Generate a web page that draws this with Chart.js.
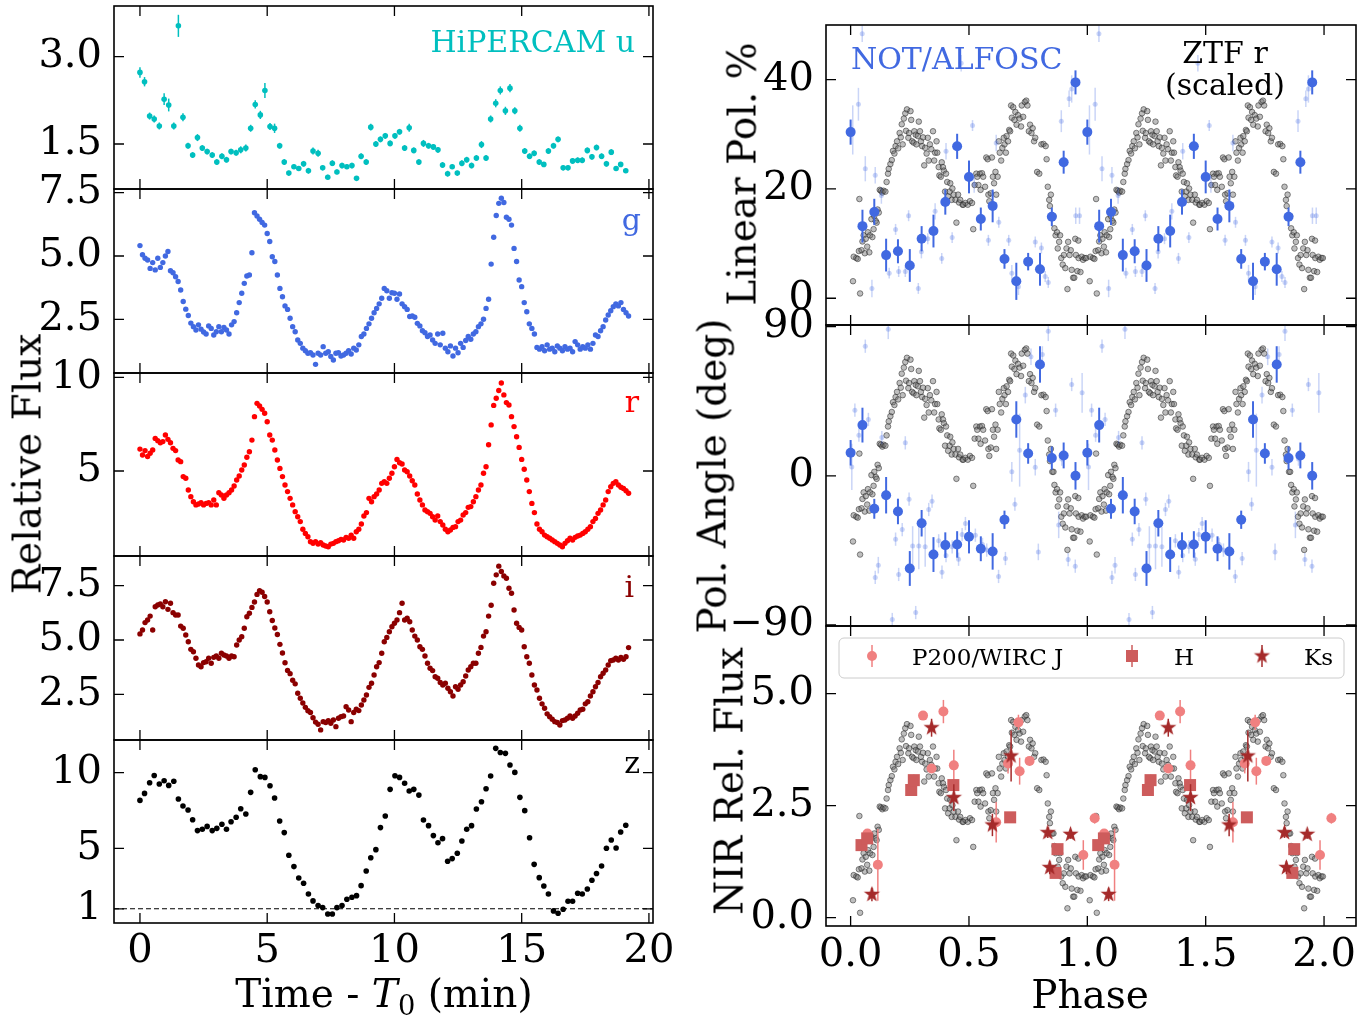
<!DOCTYPE html>
<html>
<head>
<meta charset="utf-8">
<script src="https://cdn.jsdelivr.net/npm/chart.js@4.4.1/dist/chart.umd.min.js"></script>
<style>
  html, body { margin: 0; padding: 0; background: #fff; }
  #fig { position: relative; width: 1371px; height: 1015px; overflow: hidden; font-family: 'DejaVu Serif', serif; }
  #fig canvas { position: absolute; }
  .lbl { position: absolute; white-space: nowrap; line-height: 1; color: #000; z-index: 5; }
  .ax { font-size: 39px; transform: translate(-50%, -50%); }
  .axv { font-size: 39px; transform: translate(-50%, -50%) rotate(-90deg); }
  .tag { font-size: 30px; }
  sub { font-size: 70%; vertical-align: -0.3em; line-height: 0; }
</style>
</head>
<body>
<div id="fig">
  <div class="lbl axv" style="left:27px; top:464px">Relative Flux</div>
  <div class="lbl ax" style="left:384px; top:993px">Time - <i>T</i><sub>0</sub> (min)</div>
  <div class="lbl axv" style="left:742px; top:174px">Linear Pol. %</div>
  <div class="lbl axv" style="left:712px; top:476px">Pol. Angle (deg)</div>
  <div class="lbl axv" style="left:729px; top:781px">NIR Rel. Flux</div>
  <div class="lbl ax" style="left:1090px; top:994px">Phase</div>

  <div class="lbl tag" style="right:736px; top:27px; color:#00bfbf">HiPERCAM u</div>
  <div class="lbl tag" style="right:730px; top:205px; color:royalblue">g</div>
  <div class="lbl tag" style="right:732px; top:387px; color:red">r</div>
  <div class="lbl tag" style="right:737px; top:572px; color:darkred">i</div>
  <div class="lbl tag" style="right:731px; top:748px; color:#000">z</div>
  <div class="lbl tag" style="left:851px; top:44px; color:royalblue">NOT/ALFOSC</div>
  <div class="lbl tag" style="left:1225px; top:38px; transform:translateX(-50%)">ZTF r</div>
  <div class="lbl tag" style="left:1225px; top:70px; transform:translateX(-50%)">(scaled)</div>
</div>
<script>
// ---------------- data: HiPERCAM light curves ----------------
const uzTime = [
  0.00, 0.18, 0.38, 0.56, 0.76, 0.95, 1.13, 1.33, 1.51, 1.69,
  1.89, 2.07, 2.26, 2.45, 2.64, 2.84, 3.02, 3.22, 3.40, 3.58,
  3.78, 3.96, 4.16, 4.35, 4.53, 4.73, 4.91, 5.11, 5.29, 5.49,
  5.67, 5.85, 6.05, 6.24, 6.43, 6.62, 6.80, 7.00, 7.18, 7.38,
  7.56, 7.74, 7.94, 8.13, 8.33, 8.51, 8.69, 8.89, 9.07, 9.27,
  9.45, 9.64, 9.83, 10.02, 10.20, 10.40, 10.58, 10.76, 10.96, 11.14,
  11.34, 11.53, 11.71, 11.89, 12.09, 12.27, 12.47, 12.65, 12.84, 13.03,
  13.22, 13.42, 13.60, 13.78, 13.98, 14.16, 14.36, 14.54, 14.73, 14.93,
  15.12, 15.31, 15.49, 15.69, 15.87, 16.05, 16.25, 16.43, 16.63, 16.82,
  17.00, 17.20, 17.38, 17.58, 17.76, 17.94, 18.14, 18.33, 18.52, 18.71,
  18.89, 19.09
];
const uFlux = [
  2.73, 2.57, 1.98, 1.93, 1.81, 2.27, 2.17, 1.81, 3.53, 1.96,
  1.47, 1.31, 1.61, 1.43, 1.37, 1.31, 1.19, 1.29, 1.23, 1.37,
  1.35, 1.40, 1.43, 1.77, 2.18, 2.00, 2.42, 1.80, 1.77, 1.47,
  1.19, 1.00, 1.11, 1.08, 1.16, 1.04, 1.38, 1.34, 1.09, 0.93,
  1.17, 1.02, 1.13, 1.11, 1.13, 0.91, 1.29, 1.19, 1.79, 1.50,
  1.58, 1.64, 1.51, 1.64, 1.71, 1.43, 1.78, 1.39, 1.19, 1.51,
  1.47, 1.45, 1.40, 1.14, 0.99, 1.11, 1.00, 1.17, 1.23, 1.13,
  1.26, 1.49, 1.26, 1.93, 2.20, 2.42, 2.07, 2.46, 2.07, 1.77,
  1.38, 1.29, 1.34, 1.19, 1.15, 1.38, 1.47, 1.58, 1.09, 1.09,
  1.21, 1.22, 1.22, 1.39, 1.28, 1.44, 1.29, 1.16, 1.36, 1.08,
  1.15, 1.04
];
const uErr = [
  0.09, 0.08, 0.06, 0.06, 0.06, 0.10, 0.11, 0.06, 0.19, 0.07,
  0.05, 0.05, 0.06, 0.05, 0.05, 0.05, 0.05, 0.05, 0.05, 0.05,
  0.05, 0.06, 0.06, 0.06, 0.07, 0.07, 0.13, 0.06, 0.08, 0.05,
  0.05, 0.04, 0.04, 0.04, 0.05, 0.05, 0.06, 0.06, 0.04, 0.04,
  0.05, 0.04, 0.05, 0.04, 0.05, 0.04, 0.05, 0.05, 0.06, 0.05,
  0.05, 0.05, 0.05, 0.05, 0.05, 0.05, 0.07, 0.05, 0.05, 0.06,
  0.05, 0.05, 0.05, 0.05, 0.05, 0.04, 0.04, 0.05, 0.05, 0.05,
  0.05, 0.06, 0.05, 0.06, 0.07, 0.07, 0.07, 0.07, 0.06, 0.06,
  0.05, 0.05, 0.05, 0.05, 0.04, 0.05, 0.05, 0.05, 0.04, 0.04,
  0.05, 0.05, 0.05, 0.05, 0.05, 0.05, 0.05, 0.05, 0.05, 0.04,
  0.04, 0.04
];
const zFlux = [
  8.17, 8.63, 9.34, 9.82, 9.25, 9.47, 9.16, 9.43, 8.26, 7.80,
  7.53, 6.89, 6.17, 6.26, 6.45, 6.17, 6.32, 6.59, 6.26, 6.76,
  7.05, 7.62, 7.27, 8.70, 10.20, 9.74, 9.69, 9.14, 8.33, 6.81,
  6.04, 4.54, 3.79, 3.04, 2.69, 1.98, 1.52, 1.21, 1.08, 0.66,
  0.66, 1.08, 1.21, 1.63, 1.76, 1.87, 2.53, 3.50, 4.38, 4.91,
  6.37, 7.14, 8.90, 9.80, 9.69, 9.30, 8.79, 8.90, 8.52, 6.87,
  6.50, 5.84, 5.37, 5.64, 4.14, 4.32, 4.67, 5.48, 6.26, 6.50,
  7.60, 8.08, 8.94, 9.78, 11.61, 11.34, 11.28, 10.51, 10.02, 8.37,
  7.49, 5.70, 3.94, 3.06, 2.51, 1.98, 0.86, 0.70, 0.97, 1.50,
  1.50, 2.03, 1.98, 2.31, 2.89, 3.33, 3.83, 5.00, 5.55, 5.02,
  6.08, 6.52
];
const zFloor = 1;

const griTime = [
  0.0, 0.1, 0.2, 0.3, 0.4, 0.5, 0.6, 0.7, 0.8, 0.9,
  1.0, 1.1, 1.2, 1.3, 1.4, 1.5, 1.6, 1.7, 1.8, 1.9,
  2.0, 2.1, 2.2, 2.3, 2.4, 2.5, 2.6, 2.7, 2.8, 2.9,
  3.0, 3.1, 3.2, 3.3, 3.4, 3.5, 3.6, 3.7, 3.8, 3.9,
  4.0, 4.1, 4.2, 4.3, 4.4, 4.5, 4.6, 4.7, 4.8, 4.9,
  5.0, 5.1, 5.2, 5.3, 5.4, 5.5, 5.6, 5.7, 5.8, 5.9,
  6.0, 6.1, 6.2, 6.3, 6.4, 6.5, 6.6, 6.7, 6.8, 6.9,
  7.0, 7.1, 7.2, 7.3, 7.4, 7.5, 7.6, 7.7, 7.8, 7.9,
  8.0, 8.1, 8.2, 8.3, 8.4, 8.5, 8.6, 8.7, 8.8, 8.9,
  9.0, 9.1, 9.2, 9.3, 9.4, 9.5, 9.6, 9.7, 9.8, 9.9,
  10.0, 10.1, 10.2, 10.3, 10.4, 10.5, 10.6, 10.7, 10.8, 10.9,
  11.0, 11.1, 11.2, 11.3, 11.4, 11.5, 11.6, 11.7, 11.8, 11.9,
  12.0, 12.1, 12.2, 12.3, 12.4, 12.5, 12.6, 12.7, 12.8, 12.9,
  13.0, 13.1, 13.2, 13.3, 13.4, 13.5, 13.6, 13.7, 13.8, 13.9,
  14.0, 14.1, 14.2, 14.3, 14.4, 14.5, 14.6, 14.7, 14.8, 14.9,
  15.0, 15.1, 15.2, 15.3, 15.4, 15.5, 15.6, 15.7, 15.8, 15.9,
  16.0, 16.1, 16.2, 16.3, 16.4, 16.5, 16.6, 16.7, 16.8, 16.9,
  17.0, 17.1, 17.2, 17.3, 17.4, 17.5, 17.6, 17.7, 17.8, 17.9,
  18.0, 18.1, 18.2, 18.3, 18.4, 18.5, 18.6, 18.7, 18.8, 18.9,
  19.0, 19.1, 19.2
];
const gFlux = [
  5.41, 5.05, 4.91, 4.84, 4.51, 4.74, 4.45, 4.91, 4.55, 4.74,
  5.00, 5.18, 4.42, 4.34, 4.18, 3.99, 3.66, 3.20, 2.90, 2.65,
  2.35, 2.21, 2.08, 2.28, 2.11, 2.00, 1.92, 2.24, 2.14, 1.88,
  2.01, 2.21, 2.01, 2.18, 2.08, 1.92, 2.28, 2.41, 2.76, 3.16,
  3.53, 3.92, 4.21, 4.25, 5.13, 6.71, 6.58, 6.45, 6.32, 6.22,
  5.89, 5.57, 4.97, 4.78, 4.25, 3.72, 3.39, 3.03, 2.89, 2.54,
  2.21, 2.01, 1.68, 1.55, 1.36, 1.26, 1.16, 1.18, 1.09, 0.72,
  1.16, 1.09, 1.42, 1.16, 1.22, 1.03, 0.89, 1.16, 1.18, 1.05,
  1.09, 1.16, 1.26, 1.13, 1.36, 1.29, 1.49, 1.82, 1.92, 2.14,
  2.32, 2.54, 2.76, 2.93, 3.11, 3.33, 3.72, 3.63, 3.33, 3.55,
  3.53, 3.29, 3.50, 3.11, 3.00, 2.89, 2.61, 2.63, 2.58, 2.34,
  2.24, 2.05, 1.97, 1.82, 1.88, 1.68, 1.55, 1.92, 1.49, 1.95,
  1.36, 1.22, 1.45, 1.05, 1.36, 1.18, 1.55, 1.39, 1.66, 1.82,
  1.71, 1.92, 2.01, 2.21, 2.32, 2.50, 2.93, 3.29, 4.68, 5.74,
  6.60, 7.08, 7.28, 7.11, 6.53, 6.45, 6.22, 5.30, 4.78, 4.05,
  3.79, 3.16, 2.80, 2.32, 2.14, 1.92, 1.39, 1.32, 1.42, 1.26,
  1.49, 1.32, 1.36, 1.22, 1.45, 1.36, 1.26, 1.42, 1.32, 1.36,
  1.22, 1.62, 1.49, 1.32, 1.42, 1.36, 1.49, 1.32, 1.55, 1.88,
  1.82, 2.05, 2.21, 2.47, 2.67, 2.84, 3.00, 3.11, 3.03, 3.16,
  2.89, 2.76, 2.63
];
const rFlux = [
  6.17, 5.85, 6.09, 5.77, 5.95, 6.12, 6.74, 6.62, 6.51, 6.57,
  6.92, 6.69, 6.51, 6.21, 6.09, 5.59, 5.50, 4.70, 4.61, 3.99,
  3.63, 3.36, 3.19, 3.24, 3.31, 3.19, 3.27, 3.31, 3.19, 3.45,
  3.19, 3.84, 3.72, 3.54, 3.72, 3.84, 3.99, 4.20, 4.52, 4.73,
  5.05, 5.32, 5.73, 6.03, 6.65, 7.90, 8.61, 8.47, 8.29, 8.08,
  7.63, 6.92, 6.65, 6.12, 5.59, 5.14, 4.70, 4.25, 3.90, 3.54,
  3.19, 2.83, 2.56, 2.30, 1.89, 1.67, 1.49, 1.23, 1.14, 1.23,
  1.10, 1.17, 1.05, 1.00, 0.96, 1.10, 1.14, 1.23, 1.28, 1.35,
  1.32, 1.46, 1.41, 1.58, 1.41, 1.76, 1.89, 2.17, 2.60, 2.78,
  3.54, 3.36, 3.63, 3.77, 3.99, 4.34, 4.43, 4.34, 4.61, 4.88,
  5.23, 5.62, 5.44, 5.37, 5.05, 4.96, 4.73, 4.48, 4.25, 3.77,
  3.45, 3.19, 2.92, 2.83, 2.74, 2.56, 2.38, 2.60, 2.30, 2.12,
  1.89, 1.76, 1.85, 1.99, 2.03, 2.30, 2.38, 2.65, 2.78, 3.06,
  3.10, 3.36, 3.63, 3.99, 4.25, 4.88, 5.23, 6.40, 7.46, 8.50,
  8.88, 9.30, 9.70, 9.06, 8.65, 8.52, 7.90, 7.37, 6.83, 6.26,
  5.62, 5.09, 4.52, 3.90, 3.27, 2.78, 2.17, 1.89, 1.76, 1.58,
  1.49, 1.41, 1.32, 1.23, 1.14, 1.05, 0.96, 1.14, 1.28, 1.41,
  1.32, 1.46, 1.53, 1.58, 1.67, 1.76, 1.89, 2.03, 2.30, 2.47,
  2.74, 2.92, 3.19, 3.45, 3.90, 4.16, 4.34, 4.43, 4.25, 4.13,
  4.07, 3.95, 3.81
];
const iFlux = [
  5.28, 5.46, 5.80, 5.92, 6.10, 5.46, 6.53, 6.61, 6.66, 6.53,
  6.76, 6.41, 6.69, 6.26, 6.15, 6.15, 5.64, 5.54, 5.23, 4.92,
  4.57, 4.46, 4.16, 3.85, 3.77, 3.96, 4.00, 4.16, 3.93, 4.20,
  4.26, 4.16, 4.39, 4.31, 4.26, 4.16, 4.26, 4.23, 4.77, 5.00,
  5.15, 5.54, 6.07, 6.23, 6.50, 6.75, 7.10, 7.27, 7.20, 7.00,
  6.75, 6.30, 5.90, 5.55, 5.25, 4.80, 4.40, 3.95, 3.60, 3.45,
  3.15, 2.98, 2.55, 2.32, 2.10, 1.90, 1.74, 1.66, 1.42, 1.22,
  1.12, 0.86, 1.24, 1.20, 1.29, 1.17, 1.32, 1.01, 1.40, 1.47,
  1.50, 1.93, 1.78, 1.24, 1.66, 1.81, 1.75, 2.01, 2.24, 2.47,
  2.82, 3.01, 3.39, 3.77, 3.96, 4.39, 4.92, 5.12, 5.38, 5.61,
  5.77, 5.92, 6.26, 6.69, 5.92, 6.00, 5.84, 5.46, 5.18, 5.00,
  4.69, 4.57, 4.26, 3.93, 3.70, 3.59, 3.31, 3.24, 3.04, 2.93,
  3.01, 2.78, 2.62, 2.42, 2.85, 2.73, 2.93, 3.08, 3.34, 3.62,
  3.77, 3.93, 3.93, 4.39, 4.66, 5.18, 5.38, 6.10, 6.60, 7.61,
  8.00, 8.40, 8.15, 7.95, 7.84, 7.38, 7.15, 6.38, 5.77, 5.58,
  5.46, 4.69, 4.23, 3.93, 3.39, 2.93, 2.70, 2.32, 2.06, 1.86,
  1.60, 1.47, 1.35, 1.24, 1.20, 1.09, 1.29, 1.32, 1.40, 1.50,
  1.40, 1.50, 1.63, 1.78, 1.81, 2.06, 2.16, 2.42, 2.62, 2.85,
  3.04, 3.31, 3.47, 3.62, 3.85, 4.05, 4.08, 4.16, 4.08, 4.20,
  4.11, 4.23, 4.65
];

// ---------------- data: ZTF r (one cycle, in NIR flux units) ----------------
const ztfPhase = [
  0.010, 0.013, 0.024, 0.030, 0.035, 0.037, 0.040, 0.046, 0.050, 0.055,
  0.060, 0.064, 0.070, 0.073, 0.079, 0.082, 0.088, 0.092, 0.097, 0.100,
  0.106, 0.110, 0.114, 0.119, 0.123, 0.128, 0.134, 0.139, 0.147, 0.152,
  0.158, 0.161, 0.168, 0.174, 0.179, 0.185, 0.190, 0.196, 0.201, 0.207,
  0.212, 0.216, 0.220, 0.225, 0.231, 0.234, 0.238, 0.244, 0.247, 0.253,
  0.256, 0.260, 0.266, 0.269, 0.275, 0.278, 0.284, 0.288, 0.293, 0.297,
  0.302, 0.306, 0.311, 0.315, 0.321, 0.326, 0.330, 0.335, 0.341, 0.348,
  0.353, 0.357, 0.363, 0.366, 0.372, 0.375, 0.381, 0.385, 0.390, 0.394,
  0.399, 0.403, 0.408, 0.412, 0.418, 0.421, 0.427, 0.430, 0.436, 0.443,
  0.447, 0.454, 0.458, 0.463, 0.473, 0.476, 0.485, 0.495, 0.504, 0.513,
  0.518, 0.524, 0.531, 0.535, 0.540, 0.546, 0.549, 0.555, 0.560, 0.568,
  0.573, 0.579, 0.582, 0.586, 0.592, 0.597, 0.601, 0.606, 0.612, 0.615,
  0.621, 0.626, 0.630, 0.636, 0.641, 0.647, 0.650, 0.656, 0.659, 0.665,
  0.670, 0.674, 0.678, 0.681, 0.687, 0.692, 0.696, 0.701, 0.707, 0.714,
  0.720, 0.723, 0.729, 0.736, 0.742, 0.747, 0.753, 0.758, 0.764, 0.769,
  0.775, 0.780, 0.788, 0.797, 0.806, 0.815, 0.824, 0.828, 0.833, 0.839,
  0.842, 0.846, 0.852, 0.857, 0.861, 0.866, 0.872, 0.875, 0.881, 0.885,
  0.890, 0.896, 0.901, 0.907, 0.912, 0.916, 0.919, 0.925, 0.930, 0.934,
  0.940, 0.945, 0.949, 0.952, 0.958, 0.962, 0.963, 0.971, 0.976, 0.982,
  0.989, 0.995
];
const ztfFlux = [
  0.39, 0.95, 0.92, 0.90, 1.08, 2.27, 0.11, 1.10, 1.30, 1.44,
  1.03, 1.36, 1.18, 1.51, 1.05, 1.44, 1.81, 1.40, 1.58, 1.88,
  1.77, 1.73, 2.03, 1.96, 2.48, 2.46, 2.42, 2.46, 2.44, 2.66,
  2.85, 2.96, 3.07, 3.16, 3.37, 3.31, 3.48, 3.59, 3.43, 3.78,
  3.68, 3.98, 3.52, 4.11, 4.23, 3.83, 4.32, 3.67, 3.78, 4.28,
  4.08, 3.59, 3.56, 3.82, 3.74, 3.52, 3.71, 4.04, 3.82, 3.59,
  3.48, 3.68, 3.04, 3.44, 3.31, 3.67, 3.15, 3.52, 3.41, 3.82,
  3.15, 3.33, 3.59, 3.33, 3.00, 2.81, 2.78, 3.11, 3.00, 2.92,
  2.44, 2.85, 2.66, 2.33, 2.44, 2.63, 2.25, 2.51, 2.37, 2.25,
  1.73, 2.37, 2.19, 2.25, 2.14, 2.14, 2.18, 2.14, 2.22, 2.18,
  1.58, 2.59, 2.85, 2.78, 2.59, 2.85, 2.48, 2.86, 2.78, 2.55,
  3.22, 3.18, 2.37, 2.22, 2.40, 3.22, 2.78, 2.63, 2.89, 2.37,
  2.78, 3.59, 3.33, 3.15, 3.44, 3.67, 3.52, 3.33, 3.71, 3.59,
  3.85, 3.82, 4.41, 4.13, 4.37, 4.08, 4.26, 3.97, 4.19, 4.11,
  3.93, 4.41, 4.15, 4.49, 4.52, 4.41, 3.82, 3.97, 3.78, 3.89,
  3.59, 3.67, 2.89, 2.85, 3.52, 3.53, 3.48, 3.18, 2.55, 2.25,
  2.11, 2.37, 1.88, 1.88, 1.60, 1.44, 1.51, 1.14, 1.29, 1.44,
  0.92, 0.77, 0.99, 0.69, 1.14, 0.21, 1.29, 0.99, 1.10, 0.65,
  0.47, 0.47, 1.36, 0.99, 0.62, 1.32, 0.92, 0.60, 0.95, 0.88,
  0.92, 0.92
];
// linear scaling of ZTF r onto the polarimetry panels: [offset, factor]
const ztfToPol = [0.0, 8.0];
const ztfToAngle = [-50.6, 28.2];

// ---------------- data: NOT/ALFOSC polarimetry ----------------
const notBinPhase = [0.00, 0.05, 0.10, 0.15, 0.20, 0.25, 0.30, 0.35, 0.40, 0.45,
                     0.50, 0.55, 0.60, 0.65, 0.70, 0.75, 0.80, 0.85, 0.90, 0.95];
const notPol = [30.4, 13.2, 15.8, 7.9, 8.6, 6.0, 10.9, 12.3, 17.6, 27.8,
                22.2, 14.5, 16.9, 7.2, 3.1, 6.7, 5.3, 14.9, 24.9, 39.5];
const notPolErr = [2.3, 3.0, 2.4, 3.0, 2.2, 3.0, 2.3, 3.0, 2.3, 2.3,
                   3.0, 2.1, 3.0, 1.8, 3.4, 1.6, 3.0, 1.7, 2.1, 2.2];
const notAngle = [13.9, 30.6, -19.9, -11.7, -21.5, -55.9, -28.6, -47.5, -41.8, -41.4,
                  -36.8, -44.0, -45.6, -26.5, 34.0, 13.5, 67.2, 10.7, 12.3, 0.0];
const notAngleErr = [7.7, 10.5, 6.0, 11.0, 7.7, 10.5, 8.0, 10.5, 7.7, 8.0,
                     10.0, 7.5, 11.0, 5.5, 11.0, 6.2, 11.0, 7.0, 7.8, 8.3];

const polSinglePhase = [0.009, 0.033, 0.049, 0.062, 0.090, 0.104, 0.130, 0.163, 0.190, 0.203,
                        0.231, 0.245, 0.286, 0.299, 0.326, 0.357, 0.385, 0.403, 0.429, 0.467,
                        0.515, 0.522, 0.582, 0.615, 0.626, 0.668, 0.681, 0.709, 0.780, 0.806,
                        0.822, 0.835, 0.890, 0.923, 0.934, 0.951, 0.967];
const polSingle = [30.8, 35.5, 48.4, 23.7, 1.8, 22.5, 18.8, 4.6, 12.6, 4.9,
                   4.9, 15.1, 1.8, 8.5, 10.9, 15.9, 7.3, 26.9, 11.1, 43.0,
                   31.6, 20.8, 10.6, 28.4, 13.9, 10.6, 4.6, 2.1, 10.3, 9.2,
                   4.0, 2.9, 32.4, 36.5, 38.3, 15.1, 15.1];
const polSingleErr = [4.5, 3.0, 1.5, 2.3, 1.6, 1.5, 1.5, 1.0, 1.0, 1.0,
                      1.0, 1.0, 1.0, 1.2, 1.0, 1.5, 1.0, 1.5, 1.0, 1.5,
                      1.0, 1.5, 1.0, 1.5, 1.0, 1.0, 1.5, 1.5, 1.0, 1.0,
                      1.0, 1.0, 2.0, 1.5, 2.5, 1.5, 1.5];

const angSinglePhase = [0.005, 0.018, 0.035, 0.062, 0.075, 0.104, 0.117, 0.132, 0.159, 0.176,
                        0.190, 0.203, 0.218, 0.231, 0.247, 0.262, 0.275, 0.288, 0.315, 0.330,
                        0.344, 0.372, 0.386, 0.403, 0.429, 0.456, 0.471, 0.485, 0.527, 0.557,
                        0.575, 0.625, 0.654, 0.681, 0.694, 0.714, 0.738, 0.762, 0.780, 0.793,
                        0.810, 0.835, 0.866, 0.879, 0.892, 0.919, 0.934, 0.949, 0.978];
const angSingle = [5.4, 39.6, 24.5, 78.2, 34.0, -61.3, -53.9, 23.1, 88.5, -86.7,
                   -38.2, -59.5, -32.4, 19.9, -14.1, -42.4, -82.5, -42.4, -42.8, -20.3,
                   -15.3, -39.2, -58.1, -48.1, -42.8, -50.3, -35.4, -28.8, -35.8, -41.4,
                   -44.8, -60.7, -49.9, 2.4, -17.1, 15.5, 48.7, 71.8, 5.2, -45.9,
                   73.2, 87.3, 39.6, -29.6, 10.1, -50.5, 55.1, -54.5, 50.1];
const angSingleErr = [14, 4, 4, 4, 4, 4, 5, 4, 6, 4,
                      4, 4, 4, 4, 4, 12, 4, 14, 12, 4,
                      4, 4, 4, 4, 4, 4, 4, 4, 4, 4,
                      4, 4, 4, 6, 4, 22, 5, 5, 5, 5,
                      5, 6, 4, 8, 4, 4, 4, 4, 12];

// ---------------- data: P200/WIRC NIR ----------------
const nirBands = ['P200/WIRC J', 'H', 'Ks'];
const jPhase = [0.071, 0.115, 0.306, 0.342, 0.392, 0.436, 0.615, 0.665, 0.709, 0.714, 0.756, 0.983, 1.031];
const jFlux = [1.88, 1.18, 4.51, 3.33, 4.60, 3.40, 2.13, 3.44, 4.36, 3.27, 3.50, 1.40, 2.22];
const jErr = [0.10, 0.80, 0.05, 0.10, 0.26, 0.35, 0.45, 0.22, 0.17, 0.30, 0.10, 0.33, 0.12];
const hPhase = [0.046, 0.070, 0.256, 0.267, 0.434, 0.674, 0.866, 0.874];
const hFlux = [1.62, 1.77, 2.85, 3.07, 2.96, 2.24, 1.00, 1.53];
const hErr = [0.08, 0.08, 0.10, 0.12, 0.12, 0.08, 0.10, 0.08];
const ksPhase = [0.090, 0.342, 0.436, 0.599, 0.678, 0.833, 0.841, 0.929];
const ksFlux = [0.52, 4.24, 2.68, 2.07, 3.61, 1.90, 1.12, 1.86];
const ksErr = [0.15, 0.20, 0.30, 0.25, 0.57, 0.12, 0.15, 0.10];

// ---------------- axes ----------------
const timeRange = [-1.02, 20.16], timeTicks = [0, 5, 10, 15, 20];
const phaseRange = [-0.104, 2.135], phaseTicks = [0, 0.5, 1.0, 1.5, 2.0];
const uRange = [0.727, 3.871], uTicks = [1.5, 3.0];
const gRange = [0.379, 7.646], gTicks = [2.5, 5.0, 7.5];
const rRange = [0.464, 10.23], rTicks = [5, 10];
const iRange = [0.396, 8.867], iTicks = [2.5, 5.0, 7.5];
const zRange = [0.06, 12.163], zTicks = [1, 5, 10];
const polRange = [-4.89, 50.0], polTicks = [0, 20, 40];
const angRange = [-90.6, 91.0], angTicks = [-90, 0, 90];
const nirRange = [-0.185, 6.51], nirTicks = [0.0, 2.5, 5.0];

const FONT = "'DejaVu Serif', serif";
Chart.defaults.font.family = FONT;

const CYAN = '#00bfbf', BLUE = 'royalblue', RED = 'red', DRED = 'darkred';
const JCOL = 'lightcoral', HCOL = 'indianred', KCOL = 'brown';
const GREY_FILL = 'rgba(110,110,110,0.45)', GREY_EDGE = 'rgba(30,30,30,0.5)';
const FAINT = 'rgba(65,105,225,0.28)';

function pairs(xs, ys) {
  return xs.map((x, k) => ({ x: x, y: ys[k] }));
}
function twoCycles(a) {
  return a.concat(a.map(p => p + 1));
}
function twice(a) {
  return a.concat(a);
}
function scaled(vals, s) {
  return vals.map(v => s[0] + s[1] * v);
}
function fmt(v, digits) {
  return v.toFixed(digits).replace('-', '\u2212');
}

function starImage(color, rOut) {
  const size = Math.ceil(rOut * 2 + 2);
  const c = document.createElement('canvas');
  c.width = c.height = size;
  const g = c.getContext('2d');
  g.fillStyle = color;
  g.beginPath();
  for (let k = 0; k < 10; k++) {
    const r = k % 2 ? rOut * 0.4 : rOut;
    const a = -Math.PI / 2 + k * Math.PI / 5;
    g.lineTo(size / 2 + r * Math.cos(a), size / 2 + r * Math.sin(a));
  }
  g.closePath();
  g.fill();
  return c;
}
const starMark = starImage(KCOL, 8.5);

// error bars drawn just before their dataset
const errorBars = {
  id: 'errorBars',
  beforeDatasetDraw(chart, args) {
    const ds = chart.data.datasets[args.index];
    if (!ds.errY) return;
    const { ctx, chartArea: a } = chart;
    const ys = chart.scales.y;
    ctx.save();
    ctx.beginPath();
    ctx.rect(a.left, a.top, a.right - a.left, a.bottom - a.top);
    ctx.clip();
    ctx.strokeStyle = ds.errColor;
    ctx.lineWidth = ds.errWidth || 1.5;
    args.meta.data.forEach((pt, k) => {
      const v = ds.data[k].y, e = ds.errY[k];
      ctx.beginPath();
      ctx.moveTo(pt.x, ys.getPixelForValue(v - e));
      ctx.lineTo(pt.x, ys.getPixelForValue(v + e));
      ctx.stroke();
    });
    ctx.restore();
  }
};

// box frame with inward ticks on all four sides
const frame = {
  id: 'frame',
  afterDatasetsDraw(chart) {
    const { ctx, chartArea: a, scales } = chart;
    const L = 10;
    ctx.save();
    ctx.strokeStyle = '#000';
    ctx.lineWidth = 1.3;
    ctx.beginPath();
    scales.x.ticks.forEach(t => {
      const px = scales.x.getPixelForValue(t.value);
      ctx.moveTo(px, a.bottom); ctx.lineTo(px, a.bottom - L);
      ctx.moveTo(px, a.top); ctx.lineTo(px, a.top + L);
    });
    scales.y.ticks.forEach(t => {
      const py = scales.y.getPixelForValue(t.value);
      ctx.moveTo(a.left, py); ctx.lineTo(a.left + L, py);
      ctx.moveTo(a.right, py); ctx.lineTo(a.right - L, py);
    });
    ctx.stroke();
    ctx.lineWidth = 1.6;
    ctx.strokeRect(a.left, a.top, a.right - a.left, a.bottom - a.top);
    ctx.restore();
  }
};

// legend of the NIR panel
const nirLegend = {
  id: 'nirLegend',
  afterDatasetsDraw(chart) {
    const { ctx, chartArea: a } = chart;
    const bx = a.left + 13, by = a.top + 12, bw = 505, bh = 40;
    ctx.save();
    ctx.beginPath();
    ctx.roundRect(bx, by, bw, bh, 5);
    ctx.fillStyle = 'rgba(255,255,255,0.8)';
    ctx.fill();
    ctx.strokeStyle = '#cccccc';
    ctx.lineWidth = 1;
    ctx.stroke();
    const cy = by + 18;
    const items = [
      { mx: 33, tx: 73, color: JCOL, mark: 'circle' },
      { mx: 293, tx: 335, color: HCOL, mark: 'rect' },
      { mx: 423, tx: 465, color: KCOL, mark: 'star' }
    ];
    items.forEach((it, k) => {
      const x = bx + it.mx;
      ctx.strokeStyle = it.color;
      ctx.lineWidth = 1.5;
      ctx.beginPath();
      ctx.moveTo(x, cy - 11); ctx.lineTo(x, cy + 11);
      ctx.stroke();
      ctx.fillStyle = it.color;
      if (it.mark === 'circle') {
        ctx.beginPath(); ctx.arc(x, cy, 5, 0, 2 * Math.PI); ctx.fill();
      } else if (it.mark === 'rect') {
        ctx.fillRect(x - 6, cy - 6, 12, 12);
      } else {
        ctx.drawImage(starMark, x - starMark.width / 2, cy - starMark.height / 2);
      }
      ctx.fillStyle = '#000';
      ctx.font = '23px ' + FONT;
      ctx.textBaseline = 'alphabetic';
      ctx.fillText(nirBands[k], bx + it.tx, by + 27);
    });
    ctx.restore();
  }
};

function axis(which, range, ticks, digits, showLabels, pad, size) {
  return {
    type: 'linear',
    position: which === 'x' ? 'bottom' : 'left',
    min: range[0], max: range[1],
    grid: { display: false, drawTicks: false },
    border: { display: false },
    ticks: {
      display: showLabels, padding: pad, color: '#000',
      autoSkip: false, maxRotation: 0,
      font: { family: FONT, size: 40, lineHeight: 1.2 },
      callback: v => fmt(v, digits)
    },
    afterBuildTicks: s => { s.ticks = ticks.map(v => ({ value: v })); },
    afterFit: s => { if (which === 'x') s.height = size; else s.width = size; }
  };
}

const LEFT_COL = { x0: 0, x1: 690, plotL: 114, plotR: 653, xPad: 5 };
const RIGHT_COL = { x0: 690, x1: 1371, plotL: 826, plotR: 1356, xPad: 6 };
const PAD = 44, XAXIS_H = 60;

function addPanel(col, top, bottom, cfg) {
  const showX = !!cfg.showX;
  const w = col.x1 - col.x0;
  const h = bottom - top + 2 * PAD + (showX ? XAXIS_H : 0);
  const cv = document.createElement('canvas');
  cv.width = w; cv.height = h;
  cv.style.left = col.x0 + 'px';
  cv.style.top = (top - PAD) + 'px';
  cv.style.width = w + 'px';
  cv.style.height = h + 'px';
  document.getElementById('fig').appendChild(cv);
  return new Chart(cv.getContext('2d'), {
    type: 'scatter',
    data: { datasets: cfg.datasets },
    options: {
      responsive: false, animation: false, events: [],
      layout: { padding: { top: PAD, bottom: PAD, left: 0, right: col.x1 - col.plotR } },
      plugins: { legend: { display: false }, tooltip: { enabled: false } },
      scales: {
        x: axis('x', cfg.xRange, cfg.xTicks, cfg.xDigits, showX, col.xPad, showX ? XAXIS_H : 0),
        y: axis('y', cfg.yRange, cfg.yTicks, cfg.yDigits, true, 12, col.plotL - col.x0)
      }
    },
    plugins: [errorBars, frame].concat(cfg.plugins || [])
  });
}

function dots(data, color, r, extra) {
  return Object.assign({
    data: data, backgroundColor: color, borderColor: color, borderWidth: 0,
    pointRadius: r, pointHoverRadius: r
  }, extra || {});
}

// ---------------- left column: HiPERCAM ----------------
const leftRows = [6, 189, 373, 556, 740, 923];
const timeAxis = { xRange: timeRange, xTicks: timeTicks, xDigits: 0 };

addPanel(LEFT_COL, leftRows[0], leftRows[1], Object.assign({
  yRange: uRange, yTicks: uTicks, yDigits: 1,
  datasets: [dots(pairs(uzTime, uFlux), CYAN, 2.8, { errY: uErr, errColor: CYAN, errWidth: 1.5 })]
}, timeAxis));

addPanel(LEFT_COL, leftRows[1], leftRows[2], Object.assign({
  yRange: gRange, yTicks: gTicks, yDigits: 1,
  datasets: [dots(pairs(griTime, gFlux), BLUE, 2.7)]
}, timeAxis));

addPanel(LEFT_COL, leftRows[2], leftRows[3], Object.assign({
  yRange: rRange, yTicks: rTicks, yDigits: 0,
  datasets: [dots(pairs(griTime, rFlux), RED, 2.7)]
}, timeAxis));

addPanel(LEFT_COL, leftRows[3], leftRows[4], Object.assign({
  yRange: iRange, yTicks: iTicks, yDigits: 1,
  datasets: [dots(pairs(griTime, iFlux), DRED, 2.7)]
}, timeAxis));

addPanel(LEFT_COL, leftRows[4], leftRows[5], Object.assign({
  yRange: zRange, yTicks: zTicks, yDigits: 0, showX: true,
  datasets: [
    dots(pairs(uzTime, zFlux), '#000', 2.8, { order: 1 }),
    { data: [{ x: timeRange[0], y: zFloor }, { x: timeRange[1], y: zFloor }],
      showLine: true, borderColor: '#000', borderWidth: 1.1, borderDash: [5, 3],
      pointRadius: 0, order: 2 }
  ]
}, timeAxis));

// ---------------- right column: polarimetry + NIR ----------------
const rightRows = [25, 325, 626, 926];
const phaseAxis = { xRange: phaseRange, xTicks: phaseTicks, xDigits: 1 };
const ztfX = twoCycles(ztfPhase);
const ztfY = twice(ztfFlux);

function ztfSet(values) {
  return dots(pairs(ztfX, values), GREY_FILL, 2.8, { borderColor: GREY_EDGE, borderWidth: 1, order: 3 });
}

addPanel(RIGHT_COL, rightRows[0], rightRows[1], Object.assign({
  yRange: polRange, yTicks: polTicks, yDigits: 0,
  datasets: [
    dots(pairs(twoCycles(notBinPhase), twice(notPol)), BLUE, 5,
      { errY: twice(notPolErr), errColor: BLUE, errWidth: 2, order: 1 }),
    dots(pairs(twoCycles(polSinglePhase), twice(polSingle)), FAINT, 2.5,
      { errY: twice(polSingleErr), errColor: FAINT, errWidth: 1.5, order: 2 }),
    ztfSet(scaled(ztfY, ztfToPol))
  ]
}, phaseAxis));

addPanel(RIGHT_COL, rightRows[1], rightRows[2], Object.assign({
  yRange: angRange, yTicks: angTicks, yDigits: 0,
  datasets: [
    dots(pairs(twoCycles(notBinPhase), twice(notAngle)), BLUE, 5,
      { errY: twice(notAngleErr), errColor: BLUE, errWidth: 2, order: 1 }),
    dots(pairs(twoCycles(angSinglePhase), twice(angSingle)), FAINT, 2.5,
      { errY: twice(angSingleErr), errColor: FAINT, errWidth: 1.5, order: 2 }),
    ztfSet(scaled(ztfY, ztfToAngle))
  ]
}, phaseAxis));

addPanel(RIGHT_COL, rightRows[2], rightRows[3], Object.assign({
  yRange: nirRange, yTicks: nirTicks, yDigits: 1, showX: true,
  plugins: [nirLegend],
  datasets: [
    dots(pairs(twoCycles(ksPhase), twice(ksFlux)), KCOL, 8,
      { pointStyle: starMark, errY: twice(ksErr), errColor: KCOL, errWidth: 1.5, order: 1 }),
    dots(pairs(twoCycles(hPhase), twice(hFlux)), HCOL, 8.5,
      { pointStyle: 'rect', errY: twice(hErr), errColor: HCOL, errWidth: 1.5, order: 2 }),
    dots(pairs(twoCycles(jPhase), twice(jFlux)), JCOL, 5,
      { errY: twice(jErr), errColor: JCOL, errWidth: 1.5, order: 3 }),
    Object.assign(ztfSet(ztfY), { order: 4 })
  ]
}, phaseAxis));
</script>
</body>
</html>
